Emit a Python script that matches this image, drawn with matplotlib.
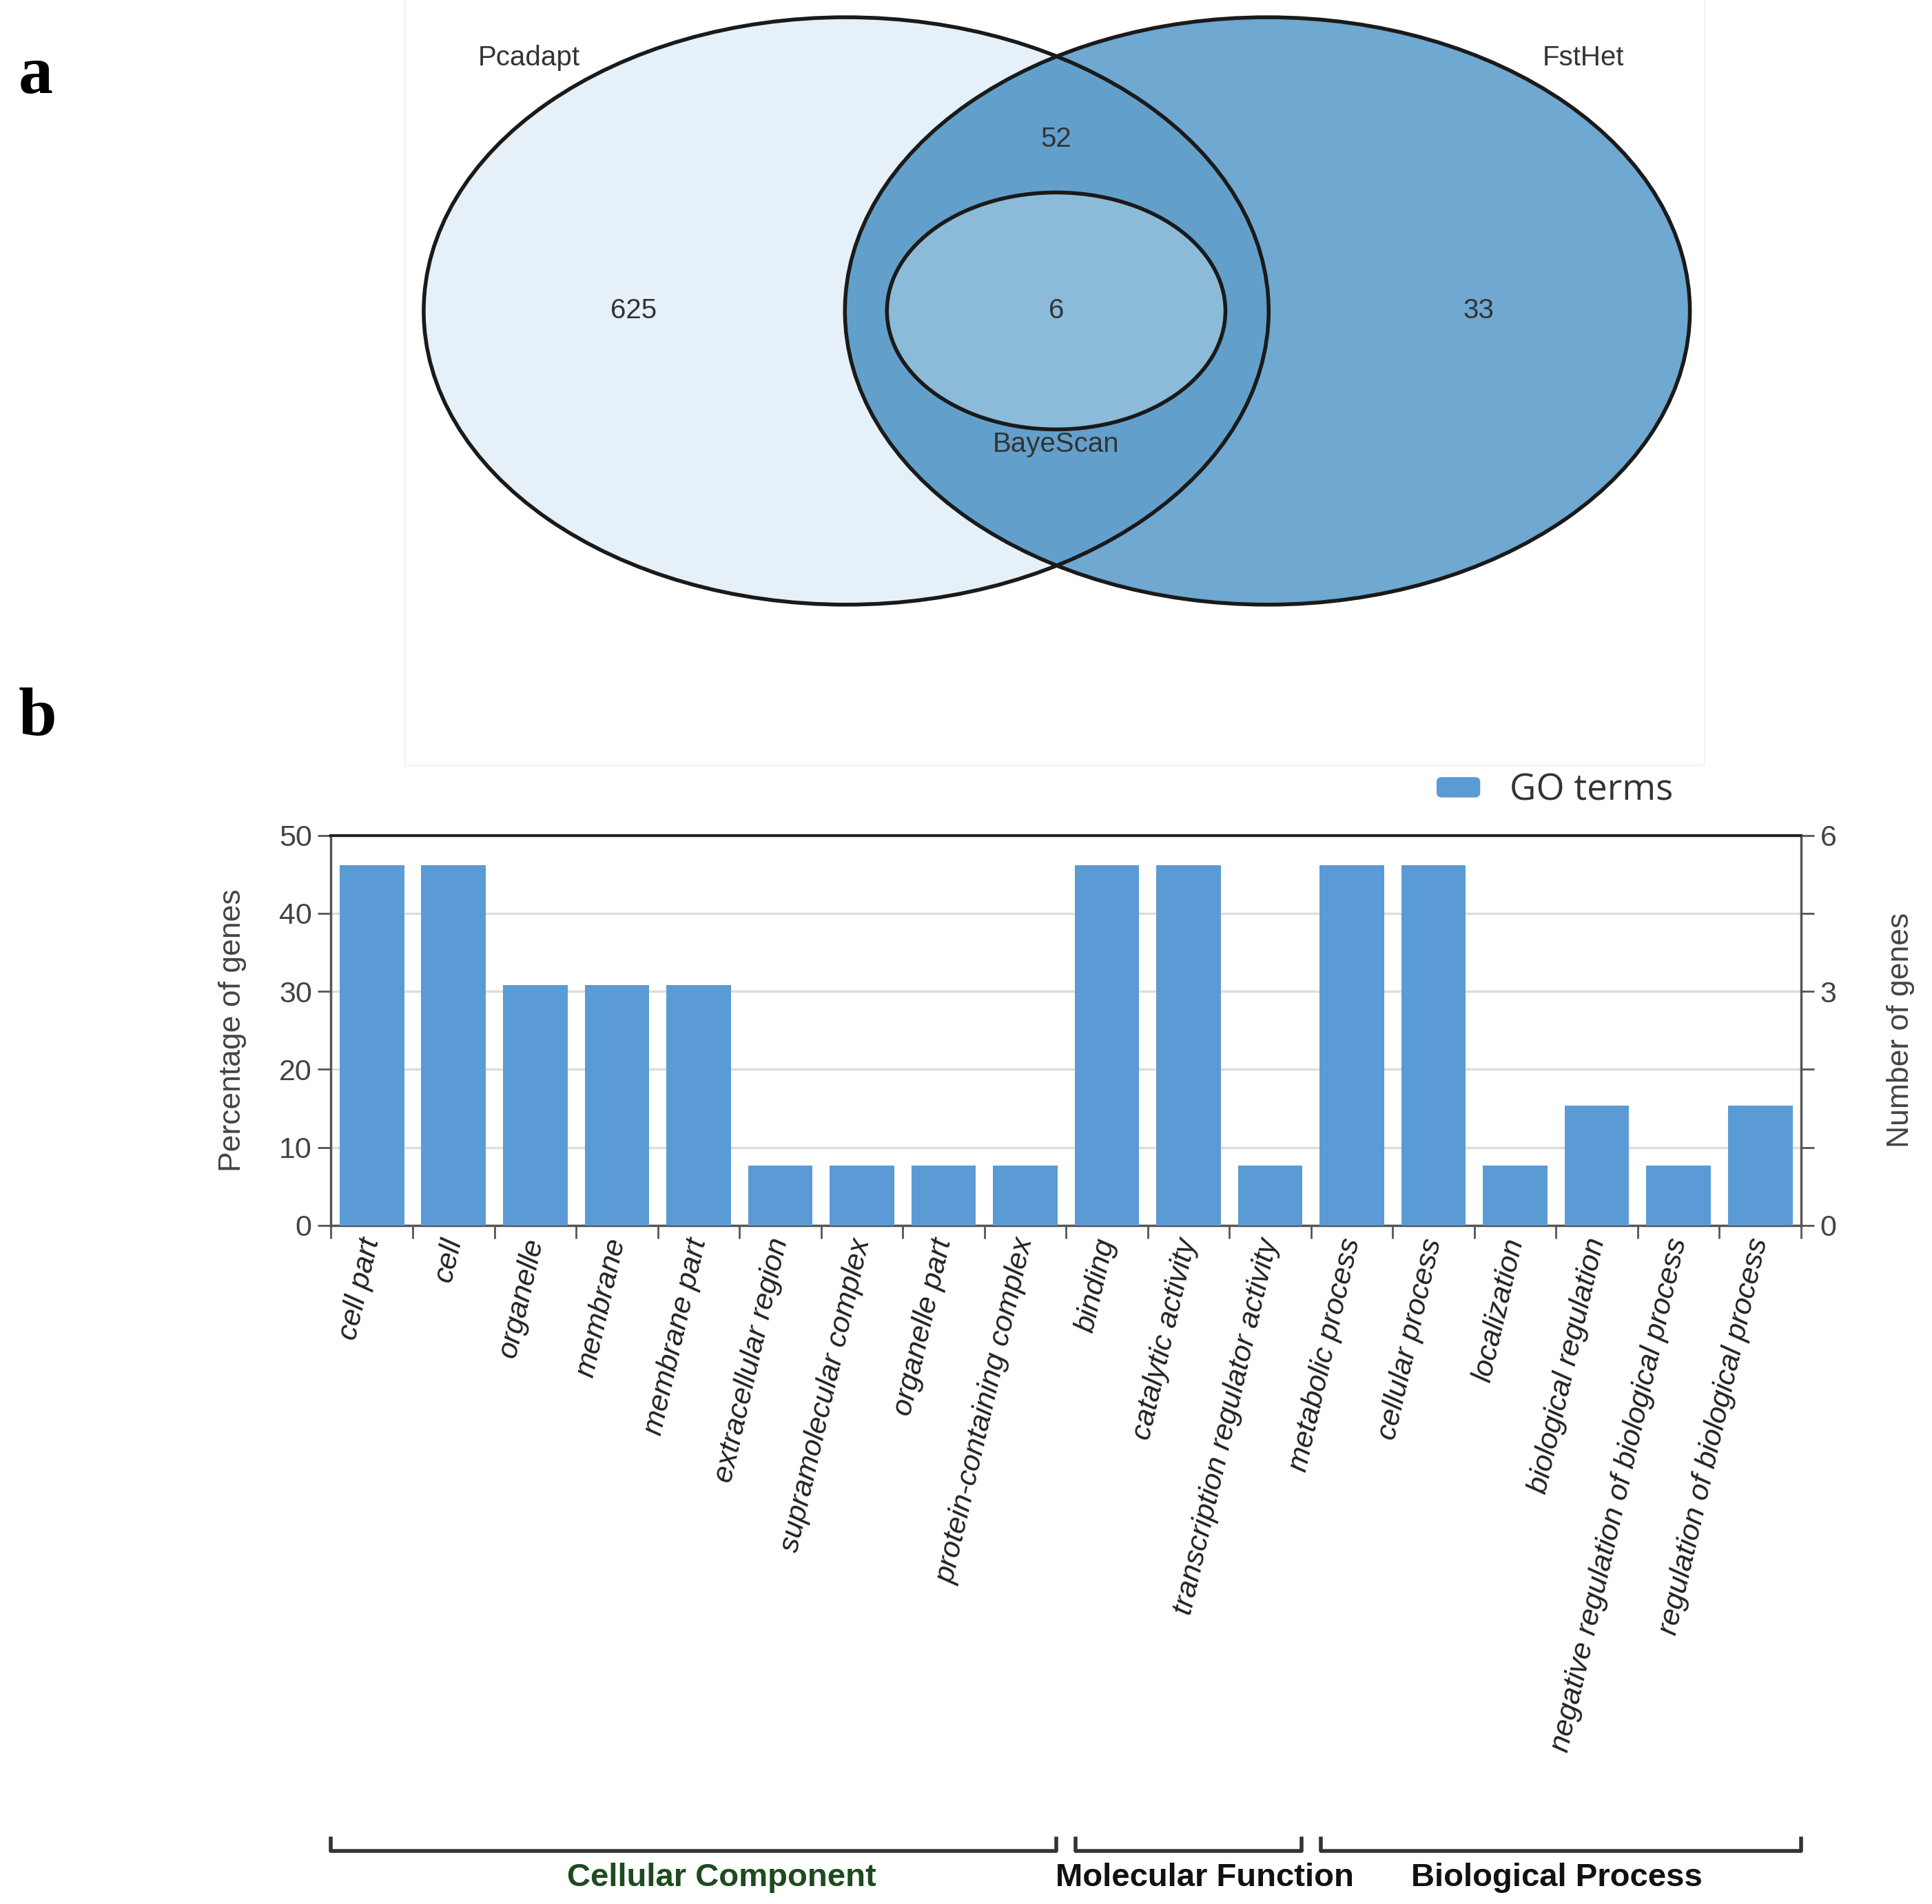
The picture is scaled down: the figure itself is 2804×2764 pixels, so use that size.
import numpy as np
import matplotlib
matplotlib.use('Agg')
import matplotlib.pyplot as plt
from matplotlib.patches import Ellipse, Rectangle, FancyBboxPatch
from matplotlib.legend_handler import HandlerPatch
from matplotlib import font_manager

# Venn data
venn_sets = ['Pcadapt', 'FstHet', 'BayeScan']
venn_counts = [625, 52, 6, 33]  # Pcadapt only, Pcadapt&FstHet, all three, FstHet only

# GO data
go_terms = ['cell part', 'cell', 'organelle', 'membrane', 'membrane part',
            'extracellular region', 'supramolecular complex', 'organelle part',
            'protein-containing complex', 'binding', 'catalytic activity',
            'transcription regulator activity', 'metabolic process', 'cellular process',
            'localization', 'biological regulation',
            'negative regulation of biological process', 'regulation of biological process']
gene_counts = [6, 6, 4, 4, 4, 1, 1, 1, 1, 6, 6, 1, 6, 6, 1, 2, 1, 2]
total_genes = 13
go_groups = ['Cellular Component', 'Molecular Function', 'Biological Process']
group_sizes = [9, 3, 6]
group_colors = ['#1f4a1f', '#111111', '#111111']
right_ticks = ['0', '', '', '3', '', '6']

percent = [c / total_genes * 100 for c in gene_counts]

names = {f.name for f in font_manager.fontManager.ttflist}
narrow = 'Liberation Sans Narrow' if 'Liberation Sans Narrow' in names else 'Liberation Sans'
sans = 'Liberation Sans'
serif = 'Liberation Serif'

W, H = 1564, 1543  # layout grid (reference pixels / 1.79)
fig = plt.figure(figsize=(28.04, 27.64), dpi=100)

# overlay axes for the venn diagram and panel letters
ov = fig.add_axes([0, 0, 1, 1], zorder=0)
ov.set_xlim(0, W)
ov.set_ylim(H, 0)
ov.set_axis_off()

ov.add_patch(Rectangle((328, -5), 1052, 625, facecolor='none', edgecolor='#f2f2f2', lw=1.5))

left = Ellipse((685, 252), 684, 476, facecolor='#e5f0f8', edgecolor='none')
right = Ellipse((1026, 252), 684, 476, facecolor='#6fa8d0', edgecolor='none')
ov.add_patch(left)
ov.add_patch(right)
inter = Ellipse((685, 252), 684, 476, facecolor='#62a0cb', edgecolor='none')
ov.add_patch(inter)
inter.set_clip_path(right)
inner = Ellipse((855, 252), 274, 192, facecolor='#8bbbd9', edgecolor='none')
ov.add_patch(inner)
for cx, w, h in [(685, 684, 476), (1026, 684, 476), (855, 274, 192)]:
    ov.add_patch(Ellipse((cx, 252), w, h, facecolor='none', edgecolor='#1a1a1a', lw=4))

txt = dict(ha='center', va='center', color='#333333', fontsize=29, family=narrow)
ov.text(428, 47, venn_sets[0], **txt)
ov.text(1282, 47, venn_sets[1], **txt)
ov.text(855, 360, venn_sets[2], **txt)
ov.text(513, 252, str(venn_counts[0]), **txt)
ov.text(855, 113, str(venn_counts[1]), **txt)
ov.text(855, 252, str(venn_counts[2]), **txt)
ov.text(1197, 252, str(venn_counts[3]), **txt)

ov.text(15, 62, 'a', fontsize=72, family=serif, fontweight='bold', va='center', ha='left')
ov.text(15, 582, 'b', fontsize=72, family=serif, fontweight='bold', va='center', ha='left')

# bar chart
ax = fig.add_axes([268 / W, 1 - 993 / H, (1458 - 268) / W, (993 - 677) / H], zorder=2)
ax.patch.set_alpha(0)
x = np.arange(len(go_terms))
ax.bar(x, percent, width=0.79, color='#5b9bd5', zorder=3, label='GO terms')
ax.set_xlim(-0.5, len(go_terms) - 0.5)
ax.set_ylim(0, 50)
yt = [0, 10, 20, 30, 40, 50]
ax.set_yticks(yt)
ax.set_yticklabels([str(v) for v in yt], family=narrow, fontsize=31, color='#444444')
for yv in yt[1:-1]:
    ax.axhline(yv, color='#dddddd', lw=2.5, zorder=1)
ax.set_xticks(x)
ax.set_xticklabels(go_terms, rotation=77, rotation_mode='anchor', ha='right', va='center',
                   fontsize=31, family=sans, style='italic', color='#222222')
ax.tick_params(axis='x', which='major', length=0, pad=14)
ax.set_xticks(np.arange(-0.5, len(go_terms)), minor=True)
ax.tick_params(axis='x', which='minor', length=14, width=2, color='#555555', direction='out')
ax.tick_params(axis='y', length=14, width=2, color='#555555', pad=6)
ax.set_ylabel('Percentage of genes', fontsize=32, family=sans, color='#444444', labelpad=34)
ax.spines['top'].set_color('#222222')
ax.spines['top'].set_linewidth(3)
for s in ['left', 'bottom', 'right']:
    ax.spines[s].set_color('#555555')
    ax.spines[s].set_linewidth(2.5)

ax2 = ax.twinx()
ax2.set_ylim(0, 50)
ax2.set_yticks(yt)
ax2.set_yticklabels(right_ticks, family=narrow, fontsize=31, color='#444444')
ax2.tick_params(axis='y', length=14, width=2, color='#555555', pad=6)
ax2.set_ylabel('Number of genes', fontsize=32, family=sans, color='#444444', labelpad=52)
for s in ax2.spines.values():
    s.set_visible(False)


class RoundHandler(HandlerPatch):
    def create_artists(self, legend, orig_handle, xdescent, ydescent, width, height,
                       fontsize, trans):
        p = FancyBboxPatch((-xdescent, -ydescent + height * 0.1), width, height * 0.8,
                           boxstyle='round,pad=0,rounding_size=%f' % (height * 0.2),
                           facecolor='#5b9bd5', edgecolor='none', transform=trans)
        return [p]


handles, labels = ax.get_legend_handles_labels()
ax.legend(handles, labels, loc='center right', bbox_to_anchor=(0.935, 1.115), frameon=False,
          prop={'family': 'Open Sans', 'size': 38}, handlelength=1.2, handleheight=0.7,
          handletextpad=0.8, labelcolor='#333333',
          handler_map={handles[0]: RoundHandler()})

# GO category brackets
start = 0
for name, size, col in zip(go_groups, group_sizes, group_colors):
    x0 = start - 0.5 + (0.12 if start > 0 else 0)
    x1 = start + size - 0.5 - (0.12 if start + size < len(go_terms) else 0)
    ax.plot([x0, x0, x1, x1], [-1.573, -1.604, -1.604, -1.573], color='#333333', lw=4,
            transform=ax.get_xaxis_transform(), clip_on=False)
    start += size
group_x = [584, 975, 1260]
for name, gx, col in zip(go_groups, group_x, group_colors):
    ov.text(gx, 1522, name, ha='center', va='center', fontsize=34, family=narrow,
            fontweight='bold', color=col)

fig.savefig('out.png', dpi=100)
